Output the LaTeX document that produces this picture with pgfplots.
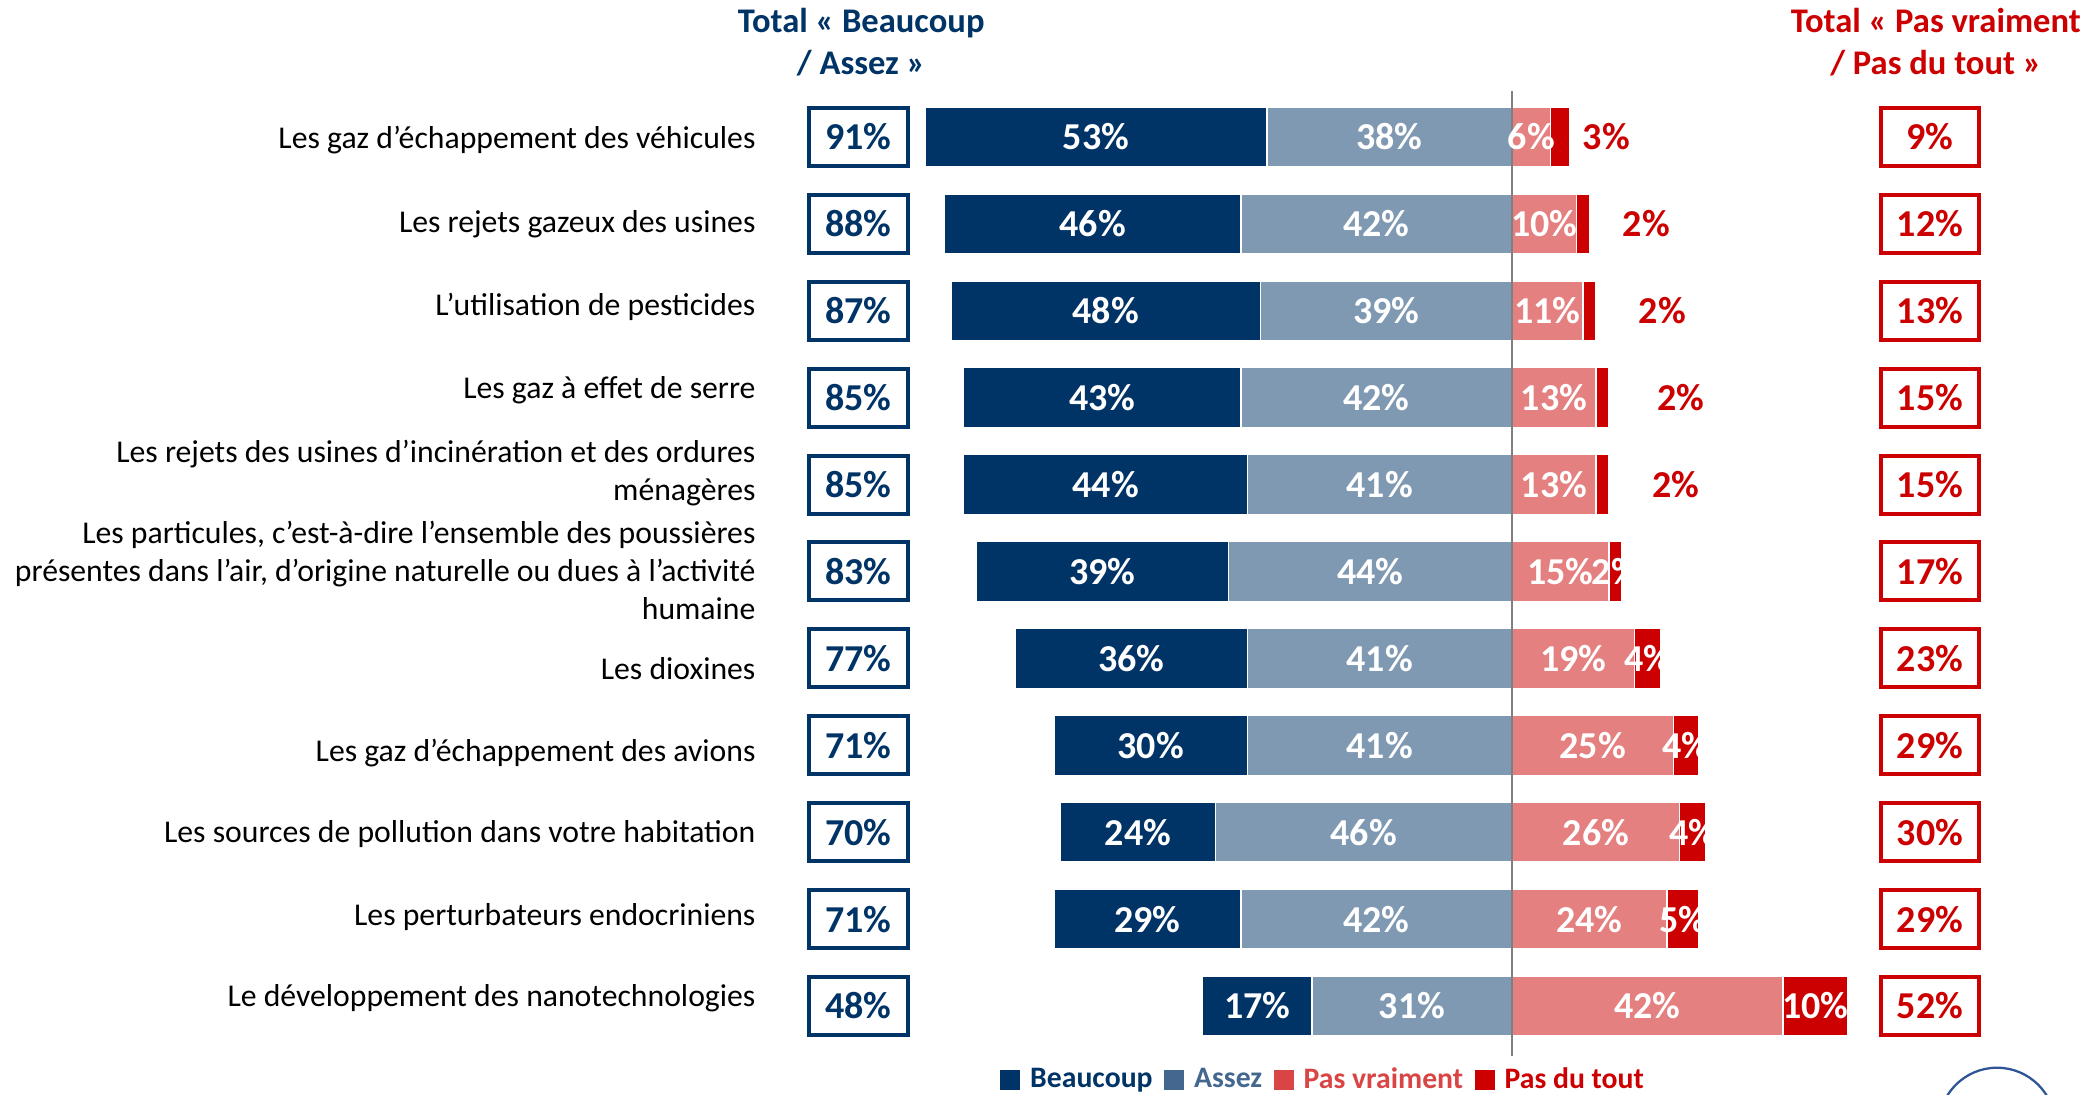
\documentclass[border=0pt]{standalone}
\usepackage{pgfplots}
\pgfplotsset{compat=1.18}
\usepackage{pgfplotstable}
\usepackage{fontspec}
\setmainfont{Carlito}
\definecolor{cB}{RGB}{0,51,102}
\definecolor{cA}{RGB}{127,153,179}
\definecolor{cPV}{RGB}{229,128,128}
\definecolor{cPdT}{RGB}{204,0,0}
\definecolor{cAleg}{RGB}{68,103,143}
\definecolor{cPVleg}{RGB}{217,69,69}
\definecolor{cLine}{RGB}{128,128,128}
\definecolor{cLogo}{RGB}{47,85,151}

\pgfplotstableread{
row B  A  PV PdT TB TP
0   53 38 6  3  91 9
1   46 42 10 2  88 12
2   48 39 11 2  87 13
3   43 42 13 2  85 15
4   44 41 13 2  85 15
5   39 44 15 2  83 17
6   36 41 19 4  77 23
7   30 41 25 4  71 29
8   24 46 26 4  70 30
9   29 42 24 5  71 29
10  17 31 42 10 48 52
}\data

\pgfplotstableread{
row x    lab
0   14.6 3
1   20.8 2
2   23.3 2
3   26.2 2
4   25.4 2
}\outside

\pgfplotsset{
  base/.style={
    at={(264.6pt,3.43pt)}, anchor=south west,
    scale only axis, width=436.2pt, height=377.15pt,
    xmin=-117.2, xmax=76, ymin=-1.5, ymax=10.9, y dir=reverse,
    clip=false,
  },
  barax/.style={base, hide axis, xbar stacked, bar width=0.69},
  lbl/.style={only marks, mark=none, forget plot,
    point meta=explicit symbolic,
    nodes near coords={\pgfplotspointmeta\%},
    every node near coord/.append style={anchor=center, inner sep=0pt,
      font=\fontsize{13.3}{14}\selectfont\bfseries, text=#1}},
  boxlbl/.style={only marks, mark=none, forget plot,
    point meta=explicit symbolic,
    nodes near coords={\pgfplotspointmeta\%},
    every node near coord/.append style={anchor=center, draw=#1, line width=1.4pt,
      minimum width=34.6pt, minimum height=20.3pt, inner sep=0pt,
      font=\fontsize{13.3}{14}\selectfont\bfseries, text=#1}},
}

\begin{document}
\begin{tikzpicture}
\useasboundingbox (0,0) rectangle (730.1pt,382.9pt);

% left side: Assez then Beaucoup, stacked towards negative values
\begin{axis}[barax]
\addplot[fill=cA, draw=white, line width=0.5pt] table[x expr=-\thisrow{A}, y=row] \data;
\addplot[fill=cB, draw=white, line width=0.5pt] table[x expr=-\thisrow{B}, y=row] \data;
\end{axis}

% right side: Pas vraiment then Pas du tout
\begin{axis}[barax]
\addplot[fill=cPV, draw=white, line width=0.5pt] table[x=PV, y=row] \data;
\addplot[fill=cPdT, draw=white, line width=0.5pt] table[x=PdT, y=row] \data;
\end{axis}

% labels, totals, categories, legend
\begin{axis}[base,
  axis line style={draw=none}, major tick style={draw=none},
  xtick=\empty,
  ytick={0.03,1,1.95,2.91,3.87,4.99,6.12,7.09,8.02,8.98,9.91},
  yticklabels={
    Les gaz d’échappement des véhicules,
    Les rejets gazeux des usines,
    L’utilisation de pesticides,
    Les gaz à effet de serre,
    {Les rejets des usines d’incinération et des ordures\\ménagères},
    {Les particules, c’est-à-dire l’ensemble des poussières\\présentes dans l’air, d’origine naturelle ou dues à l’activité\\humaine},
    Les dioxines,
    Les gaz d’échappement des avions,
    Les sources de pollution dans votre habitation,
    Les perturbateurs endocriniens,
    Le développement des nanotechnologies},
  yticklabel style={anchor=east, inner sep=0pt, align=right,
    font=\fontsize{11.1}{13.3}\selectfont, text=black},
  legend columns=-1,
  legend style={draw=none, fill=none, at={(0.4565,0.004)}, anchor=center,
    font=\fontsize{10.4}{12}\selectfont\bfseries,
    /tikz/every odd column/.append style={column sep=1.5pt},
    /tikz/every even column/.append style={column sep=2pt}},
  legend entries={\textcolor{cB}{Beaucoup}, \textcolor{cAleg}{Assez},
    \textcolor{cPVleg}{Pas vraiment}, \textcolor{cPdT}{Pas du tout}},
]
\addlegendimage{legend image code/.code={\fill[cB] (0pt,-3.3pt) rectangle (6.6pt,3.3pt);}}
\addlegendimage{legend image code/.code={\fill[cAleg] (0pt,-3.3pt) rectangle (6.6pt,3.3pt);}}
\addlegendimage{legend image code/.code={\fill[cPVleg] (0pt,-3.3pt) rectangle (6.6pt,3.3pt);}}
\addlegendimage{legend image code/.code={\fill[cPdT] (0pt,-3.3pt) rectangle (6.6pt,3.3pt);}}

% centre line
\addplot[cLine, line width=0.7pt, forget plot] coordinates {(0,-0.53) (0,10.57)};

% labels in bars
\addplot[lbl=white] table[x expr=-\thisrow{A}/2, y=row, meta=A] \data;
\addplot[lbl=white] table[x expr=-\thisrow{A}-\thisrow{B}/2, y=row, meta=B] \data;
\addplot[lbl=white] table[x expr=\thisrow{PV}/2, y=row, meta=PV] \data;
\addplot[lbl=white, restrict y to domain=4.5:10.5] table[x expr=\thisrow{PV}+\thisrow{PdT}/2, y=row, meta=PdT] \data;
\addplot[lbl=cPdT] table[x=x, y=row, meta=lab] \outside;

% totals
\addplot[boxlbl=cB] table[x expr=-101.3, y=row, meta=TB] \data;
\addplot[boxlbl=cPdT] table[x expr=64.8, y=row, meta=TP] \data;

% headers
\node[align=center, text=cB, font=\fontsize{12.1}{14.7}\selectfont\bfseries]
  at (axis cs:-100.9,-1.09) {Total « Beaucoup\\/ Assez »};
\node[align=center, text=cPdT, font=\fontsize{12.1}{14.7}\selectfont\bfseries]
  at (axis cs:65.7,-1.09) {Total « Pas vraiment\\/ Pas du tout »};
\end{axis}

\draw[cLogo, line width=0.8pt] (698.95pt,-11.2pt) circle (20.4pt);
\end{tikzpicture}
\end{document}
